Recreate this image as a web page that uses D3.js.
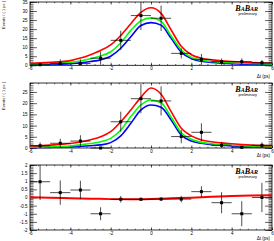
<!DOCTYPE html>
<html>
<head>
<meta charset="utf-8">
<script src="https://cdn.jsdelivr.net/npm/d3@7"></script>
<style>
  html, body { margin: 0; padding: 0; background: #fff; }
  svg { display: block; }
</style>
</head>
<body>
<div id="chart"></div>
<script>
// bin centres for the data points (1 ps bins)
const binCenters = [-5.5, -4.5, -3.5, -2.5, -1.5, -0.5, 0.5, 1.5, 2.5, 3.5, 4.5, 5.5];

const topValues = [0.3, 1.0, 1.0, 3.9, 13.8, 27.5, 26.0, 6.6, 3.3, 2.0, 2.0, 1.4];
const topErrors = [1.0, 2.3, 2.3, 3.6, 5.3, 8.0, 7.0, 2.8, 3.0, 1.8, 1.8, 1.5];

const midValues = [1.0, 2.1, 3.1, 0.0, 11.7, 22.0, 21.0, 5.1, 7.0, 1.2, 0.3, 1.2];
const midErrors = [1.5, 2.0, 2.6, 0.0, 4.5, 6.5, 6.5, 3.0, 4.0, 1.5, 0.5, 1.3];

const asymValues = [0.97, 0.3, 0.46, -1.0, -0.11, -0.11, -0.1, -0.1, 0.36, -0.32, -1.0, 0.0];
const asymErrors = [1.13, 0.75, 0.57, 0.4, 0.2, 0.1, 0.1, 0.2, 0.33, 0.65, 0.77, 0.9];

const curveT = [-6, -5, -4, -3.5, -3, -2.5, -2, -1.5, -1, -0.5, 0, 0.5, 1, 1.5, 2, 2.5, 3, 3.5, 4, 5, 6];

const topRed   = [1.1, 1.6, 2.6, 4.0, 5.9, 8.2, 11.3, 16.5, 23.0, 29.3, 31.8, 28.7, 19.5, 10.5, 5.8, 3.9, 3.0, 2.5, 2.1, 1.5, 1.1];
const topGreen = [0.7, 1.0, 1.6, 2.4, 3.6, 5.1, 7.5, 12.5, 19.3, 24.6, 26.2, 24.3, 16.2, 8.5, 4.4, 2.8, 2.1, 1.7, 1.4, 1.0, 0.7];
const topBlue  = [0.3, 0.5, 0.9, 1.4, 2.1, 3.0, 5.0, 9.4, 15.8, 22.0, 23.6, 22.2, 14.9, 7.3, 3.7, 2.2, 1.6, 1.2, 0.9, 0.6, 0.4];

const midRed   = [0.9, 1.3, 2.0, 2.7, 3.7, 5.0, 7.3, 11.7, 17.0, 22.6, 26.8, 24.0, 16.2, 8.8, 5.4, 3.6, 2.8, 2.3, 1.9, 1.3, 1.0];
const midGreen = [0.4, 0.6, 0.9, 1.4, 2.0, 2.8, 4.3, 8.0, 14.0, 19.2, 21.4, 20.2, 13.7, 6.8, 3.9, 2.5, 1.9, 1.5, 1.2, 0.8, 0.6];
const midBlue  = [0.2, 0.3, 0.5, 0.7, 1.0, 1.4, 2.4, 5.4, 11.0, 17.0, 19.2, 18.2, 12.5, 5.8, 3.1, 2.1, 1.5, 1.2, 0.9, 0.5, 0.3];

const asymT   = [-6, -5, -4, -3, -2, -1, 0, 1, 2, 3, 4, 5, 6];
const asymRed = [0.01, -0.01, -0.04, -0.07, -0.1, -0.11, -0.09, -0.05, -0.01, 0.04, 0.09, 0.12, 0.14];

const xTicks = [-6, -4, -2, 0, 2, 4, 6];

const width = 274;
const height = 241;
const left = 30;
const right = 272;
const font = "'Liberation Sans', Arial, sans-serif";

const svg = d3
  .select("#chart")
  .append("svg")
  .attr("width", width)
  .attr("height", height);

const x = d3.scaleLinear().domain([-6, 6]).range([left, right]);

const drawPanel = (p) => {
  const y = d3.scaleLinear().domain(p.domain).range([p.bottom, p.top]);
  const g = svg.append("g");

  // minor ticks
  const xMinor = d3.range(-6, 6.001, 0.4);
  const yMinor = d3.range(p.domain[0], p.domain[1] + 1e-6, p.minorStep);

  const noLabel = () => "";

  g.append("g")
    .attr("transform", `translate(0,${p.bottom})`)
    .call(d3.axisBottom(x).tickValues(xMinor).tickSize(-1.3).tickFormat(noLabel));
  g.append("g")
    .attr("transform", `translate(0,${p.top})`)
    .call(d3.axisTop(x).tickValues(xMinor).tickSize(-1.3).tickFormat(noLabel));
  g.append("g")
    .attr("transform", `translate(${left},0)`)
    .call(d3.axisLeft(y).tickValues(yMinor).tickSize(-3.5).tickFormat(noLabel));
  g.append("g")
    .attr("transform", `translate(${right},0)`)
    .call(d3.axisRight(y).tickValues(yMinor).tickSize(-3.5).tickFormat(noLabel));

  // major ticks + labels
  g.append("g")
    .attr("transform", `translate(0,${p.bottom})`)
    .call(d3.axisBottom(x).tickValues(xTicks).tickSize(-2.6).tickPadding(2).tickFormat((d) => String(d)));
  g.append("g")
    .attr("transform", `translate(0,${p.top})`)
    .call(d3.axisTop(x).tickValues(xTicks).tickSize(-2.6).tickFormat(noLabel));
  g.append("g")
    .attr("transform", `translate(${left},0)`)
    .call(d3.axisLeft(y).tickValues(p.yTicks).tickSize(-7).tickPadding(2.5).tickFormat((d) => String(d)));
  g.append("g")
    .attr("transform", `translate(${right},0)`)
    .call(d3.axisRight(y).tickValues(p.yTicks).tickSize(-7).tickFormat(noLabel));

  g.selectAll(".domain").remove();
  g.selectAll(".tick line").attr("stroke", "#000").attr("stroke-width", 0.6);
  g.selectAll(".tick text")
    .attr("font-family", font)
    .attr("font-size", "4.5px")
    .attr("fill", "#000");

  g.append("rect")
    .attr("x", left)
    .attr("y", p.top)
    .attr("width", right - left)
    .attr("height", p.bottom - p.top)
    .attr("fill", "none")
    .attr("stroke", "#000")
    .attr("stroke-width", 0.8);

  const line = d3
    .line()
    .x((d) => x(d[0]))
    .y((d) => y(d[1]))
    .curve(d3.curveMonotoneX);

  p.curves.forEach((c) => {
    g.append("path")
      .attr("d", line(c.t.map((t, i) => [t, c.values[i]])))
      .attr("fill", "none")
      .attr("stroke", c.colour)
      .attr("stroke-width", c.width);
  });

  // data points with error bars
  const pts = g
    .selectAll(".pt")
    .data(binCenters.map((t, i) => ({ t, v: p.values[i], e: p.errors[i] })))
    .join("g")
    .attr("class", "pt");

  pts.append("line")
    .attr("x1", (d) => x(d.t - 0.5))
    .attr("x2", (d) => x(d.t + 0.5))
    .attr("y1", (d) => y(d.v))
    .attr("y2", (d) => y(d.v))
    .attr("stroke", "#000")
    .attr("stroke-width", 0.7);
  pts.append("line")
    .attr("x1", (d) => x(d.t))
    .attr("x2", (d) => x(d.t))
    .attr("y1", (d) => y(Math.min(d.v + d.e, p.domain[1])))
    .attr("y2", (d) => y(Math.max(d.v - d.e, p.domain[0])))
    .attr("stroke", "#000")
    .attr("stroke-width", 0.7);
  pts.append("rect")
    .attr("x", (d) => x(d.t) - 1.5)
    .attr("y", (d) => y(d.v) - 1.5)
    .attr("width", 3)
    .attr("height", 3)
    .attr("fill", "#000");

  // axis title
  g.append("text")
    .attr("x", right - 2)
    .attr("y", p.titleY)
    .attr("text-anchor", "end")
    .attr("font-family", font)
    .attr("font-size", "4.5px")
    .text("Δt (ps)");

  if (p.yTitle) {
    g.append("text")
      .attr("transform", `translate(5,${p.top - 1}) rotate(-90)`)
      .attr("text-anchor", "end")
      .attr("font-family", font)
      .attr("font-size", "4px")
      .text(p.yTitle);
  }

  // BaBar logo
  const logo = g.append("text")
    .attr("x", 258)
    .attr("y", p.top + 8.5)
    .attr("text-anchor", "end")
    .attr("font-family", "'Liberation Serif', 'Times New Roman', serif")
    .attr("font-style", "italic")
    .attr("font-weight", "bold");
  logo.append("tspan").attr("font-size", "8px").text("B");
  logo.append("tspan").attr("font-size", "6px").text("A");
  logo.append("tspan").attr("font-size", "8px").text("B");
  logo.append("tspan").attr("font-size", "6px").text("AR");

  g.append("text")
    .attr("x", 257)
    .attr("y", p.top + 12.5)
    .attr("text-anchor", "end")
    .attr("font-family", font)
    .attr("font-size", "3.8px")
    .text("preliminary");
};

drawPanel({
  top: 2,
  bottom: 65.3,
  titleY: 77.5,
  domain: [0, 35],
  yTicks: [0, 5, 10, 15, 20, 25, 30, 35],
  minorStep: 1,
  values: topValues,
  errors: topErrors,
  yTitle: "Events / ( 1 ps )",
  curves: [
    { t: curveT, values: topBlue, colour: "#0000ff", width: 1.6 },
    { t: curveT, values: topGreen, colour: "#00ff00", width: 1.6 },
    { t: curveT, values: topRed, colour: "#ff0000", width: 1.6 },
  ],
});

drawPanel({
  top: 83,
  bottom: 148,
  titleY: 156.5,
  domain: [0, 29],
  yTicks: [0, 5, 10, 15, 20, 25],
  minorStep: 1,
  values: midValues,
  errors: midErrors,
  yTitle: "Events / ( 1 ps )",
  curves: [
    { t: curveT, values: midBlue, colour: "#0000ff", width: 1.6 },
    { t: curveT, values: midGreen, colour: "#00ff00", width: 1.6 },
    { t: curveT, values: midRed, colour: "#ff0000", width: 1.6 },
  ],
});

drawPanel({
  top: 165,
  bottom: 230,
  titleY: 239.5,
  domain: [-2, 2],
  yTicks: [-2, -1.5, -1, -0.5, 0, 0.5, 1, 1.5, 2],
  minorStep: 0.1,
  values: asymValues,
  errors: asymErrors,
  yTitle: null,
  curves: [{ t: asymT, values: asymRed, colour: "#ff0000", width: 2 }],
});
</script>
</body>
</html>
